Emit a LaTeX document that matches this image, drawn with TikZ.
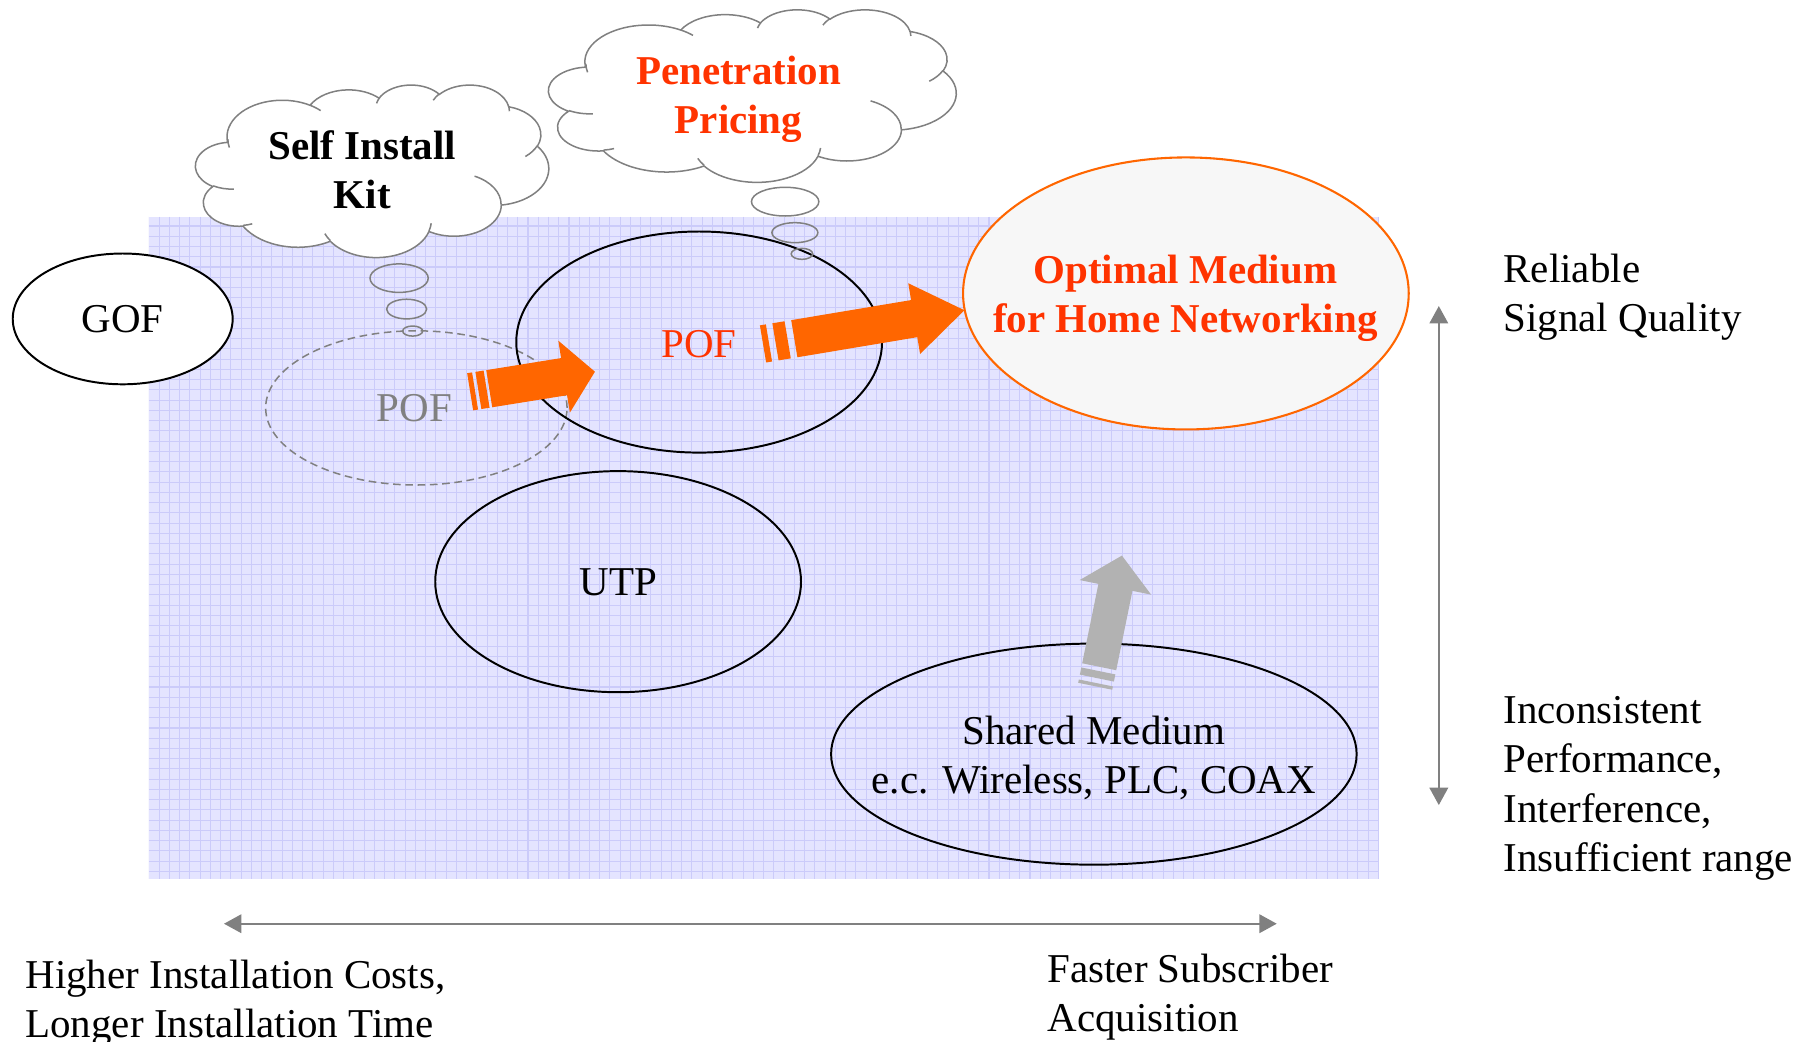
\documentclass[tikz,border=0pt]{standalone}
\usepackage{fontspec}
\setmainfont{Liberation Serif}
\usetikzlibrary{shapes.geometric,arrows.meta}

\definecolor{bgfill}{HTML}{E4E4FF}
\definecolor{gridc}{HTML}{CBCBFA}
\definecolor{orangeA}{HTML}{FF6600}
\definecolor{redT}{HTML}{FF3300}
\definecolor{grayL}{HTML}{808080}
\definecolor{grayA}{HTML}{B2B2B2}
\definecolor{optfill}{HTML}{F7F7F7}

% parametric angle of an ellipse point given at a visual angle
\pgfmathdeclarefunction{vis}{3}{%
  \begingroup
  \pgfmathparse{atan2((#2)*sin(#1),(#3)*cos(#1))}%
  \pgfmathsmuggle\pgfmathresult
  \endgroup}

\tikzset{
  carc/.style n args={4}{insert path={arc[x radius=#1, y radius=#2,
      start angle={vis(#3,#1,#2)},
      delta angle={mod(vis((#3)+(#4),#1,#2)-vis(#3,#1,#2)+720,360)}]}},
  cloudline/.style={draw=grayL, line width=0.65pt},
  gridline/.style={draw=gridc, line width=0.45pt},
  medium/.style={ellipse, draw=black, line width=0.85pt, inner sep=0pt, outer sep=0pt},
  bubble/.style={ellipse, draw=grayL, line width=0.65pt, inner sep=0pt, outer sep=0pt},
  lbl/.style={font=\fontsize{17.7}{21.25}\selectfont, inner sep=0pt, outer sep=0pt, align=center},
  lblb/.style={lbl, font=\fontsize{17.7}{21.25}\selectfont\bfseries},
  lbll/.style={lbl, align=left, anchor=west},
  axisarrow/.style={draw=grayL, line width=0.85pt,
      {Triangle[length=7.5pt,width=8pt]}-{Triangle[length=7.5pt,width=8pt]}},
  fatorange/.style={fill=orangeA},
  fatgray/.style={fill=grayA},
}

% PowerPoint-like cloud: x y (top-left), width height
\newcommand\pptcloud[4]{%
\begin{scope}[shift={(#1,#2)}, xscale=#3/43.2, yscale=#4/43.2]
  \filldraw[cloudline, fill=white] (3.9,14.37)
    [carc={6.753}{9.190}{-190.4875}{123.7805}]
    [carc={5.333}{7.267}{-144.1024}{89.9452}]
    [carc={4.365}{5.945}{-145.8079}{99.7230}]
    [carc={4.857}{6.595}{-130.9861}{117.2417}]
    [carc={5.333}{7.273}{-78.7089}{109.0269}]
    [carc={6.775}{9.220}{-46.2673}{130.2690}]
    [carc={5.785}{7.867}{0.6250}{114.0333}]
    [carc={6.752}{9.215}{22.4516}{115.1726}]
    [carc={7.720}{10.543}{66.2426}{75.7110}]
    [carc={4.360}{5.918}{-274.9421}{146.7356}]
    [carc={4.345}{5.945}{-246.8285}{152.5189}] -- cycle;
  \draw[cloudline]
    (4.693,26.177) [carc={4.345}{5.945}{86.742}{26.4295}]
    (6.928,34.899) [carc={4.360}{5.918}{73.6105}{11.4475}]
    (16.478,39.090) [carc={6.752}{9.215}{137.6242}{14.0811}]
    (28.827,34.751) [carc={6.752}{9.215}{6.4533}{15.9984}]
    (34.129,22.954) [carc={5.785}{7.867}{-70.2924}{70.9174}]
    (41.798,15.354) [carc={5.333}{7.273}{30.3180}{27.7515}]
    (38.324,5.426) [carc={4.857}{6.595}{-13.7443}{14.8589}]
    (29.078,3.952) [carc={4.857}{6.595}{-149.1815}{18.1954}]
    (22.141,4.720) [carc={4.365}{5.945}{-163.4943}{17.6864}]
    (14.000,5.192) [carc={6.753}{9.190}{-66.7070}{12.3194}]
    (4.127,15.789) [carc={6.753}{9.190}{162.0476}{17.7840}];
\end{scope}}

\begin{document}
\begin{tikzpicture}[x=0.5pt,y=-0.5pt]
\useasboundingbox (0,0) rectangle (1568,900);
\clip (0,0) rectangle (1568,900);

% background with grid
\fill[bgfill] (128.7,187.2) rectangle (1191.6,759.5);
\begin{scope}
  \clip (128.7,187.2) rectangle (1191.6,759.5);
  \foreach \k in {0,...,120} \draw[gridline] ({128.7+8.85*\k},187.2) -- ({128.7+8.85*\k},759.5);
  \foreach \k in {-1,...,64} \draw[gridline] (128.7,{195.25+8.85*\k}) -- (1191.6,{195.25+8.85*\k});
\end{scope}

% media ellipses
\node[medium, fill=white, minimum width=95pt, minimum height=56.5pt] (gof) at (106,275.5) {};
\node[lbl] (goft) at (106,275.5) {GOF};

\node[ellipse, draw=grayL, line width=0.65pt, dash pattern=on 3.3pt off 2pt,
      inner sep=0pt, minimum width=130.2pt, minimum height=66.6pt] (pofold) at (359.7,352.4) {};
\node[lbl, text=grayL] (pofoldt) at (358,353) {POF};

\node[medium, minimum width=158pt, minimum height=95.5pt] (pof) at (604,295.5) {};
\node[lbl, text=redT] (poft) at (604,297) {POF};

\node[medium, minimum width=158pt, minimum height=95.5pt] (utp) at (534,502.5) {};
\node[lbl] (utpt) at (534,503) {UTP};

\node[medium, minimum width=227pt, minimum height=95.5pt] (shared) at (945,651.5) {};
\node[lbl] (sharedt) at (945,655) {Shared Medium\\e.c. Wireless, PLC, COAX};

\node[ellipse, draw=orangeA, fill=optfill, line width=0.9pt, inner sep=0pt,
      minimum width=192.5pt, minimum height=117.5pt] (opt) at (1024.5,253.5) {};
\node[lblb, text=redT] (optt) at (1024,258) {Optimal Medium\\for Home Networking};

% thought clouds
\pptcloud{169}{73}{305}{149}
\node[lblb] (selfkit) at (313,147) {Self Install\\Kit};
\node[bubble, minimum width=25.15pt, minimum height=12.3pt] (b1a) at (344.8,240.3) {};
\node[bubble, minimum width=17.3pt, minimum height=8.5pt] (b1b) at (351.3,267) {};
\node[bubble, minimum width=8.65pt, minimum height=4.35pt] (b1c) at (356.5,286) {};

\pptcloud{474}{8}{352}{149}
\node[lblb, text=redT] (pricing) at (638,86) {Penetration\\Pricing};
\node[bubble, minimum width=29.1pt, minimum height=12.4pt] (b2a) at (678.3,174.2) {};
\node[bubble, minimum width=19.85pt, minimum height=8.65pt] (b2b) at (686.7,201) {};
\node[bubble, minimum width=9.3pt, minimum height=4.75pt] (b2c) at (692.8,219.3) {};

% striped block arrows
\coordinate (a1) at (422.65,335.8);
\begin{scope}[shift={(a1)}, rotate=9.14]
  \fill[fatorange] (0,-16.25) -- (65.5,-16.25) -- (65.5,-31.5) -- (92.5,0)
     -- (65.5,31.5) -- (65.5,16.25) -- (0,16.25) -- cycle;
  \fill[fatorange] (-2.3,-16.25) rectangle (-9.5,16.25);
  \fill[fatorange] (-12.4,-16.25) rectangle (-16.7,16.25);
\end{scope}

\coordinate (a2) at (686.2,292.6);
\begin{scope}[shift={(a2)}, rotate=9.5]
  \fill[fatorange] (0,-16.25) -- (105,-16.25) -- (105,-31) -- (149,0)
     -- (105,31) -- (105,16.25) -- (0,16.25) -- cycle;
  \fill[fatorange] (-5.8,-16.25) rectangle (-16.5,16.25);
  \fill[fatorange] (-22.2,-16.25) rectangle (-27.4,16.25);
\end{scope}

\coordinate (a3) at (949.6,576);
\begin{scope}[shift={(a3)}, rotate=78.45]
  \fill[fatgray] (0,-15) -- (70,-15) -- (70,-31.5) -- (98,0)
     -- (70,31.5) -- (70,15) -- (0,15) -- cycle;
  \fill[fatgray] (-3.7,-15) rectangle (-10,15);
  \fill[fatgray] (-14.3,-15) rectangle (-17.2,15);
\end{scope}

% axes
\coordinate (hl) at (193.5,798);
\coordinate (hr) at (1103,798);
\draw[axisarrow] (hl) -- (hr);
\coordinate (vt) at (1243,264.4);
\coordinate (vb) at (1243,695.5);
\draw[axisarrow] (vt) -- (vb);

% axis labels
\node[lbll] (reliable) at (1299,257) {Reliable\\Signal Quality};
\node[lbll] (inconsistent) at (1299,681) {Inconsistent\\Performance,\\Interference,\\Insufficient range};
\node[lbll] (higher) at (22,867) {Higher Installation Costs,\\Longer Installation Time};
\node[lbll] (faster) at (905,861.5) {Faster Subscriber\\Acquisition};
\end{tikzpicture}
\end{document}
